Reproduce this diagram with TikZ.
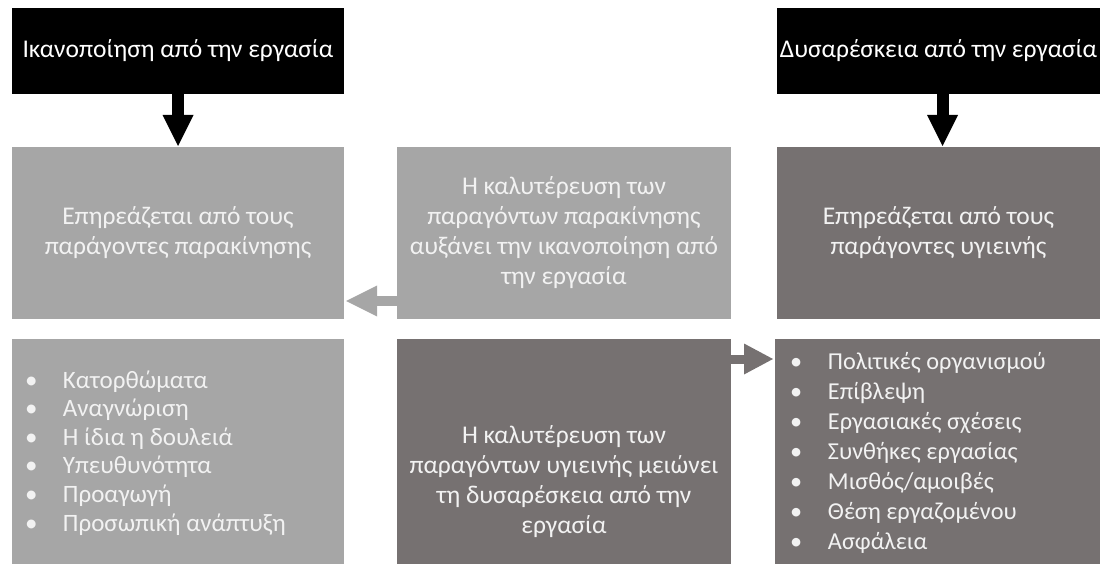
\documentclass[tikz,border=0pt]{standalone}
\usepackage{fontspec}
\setmainfont{Carlito}
\usetikzlibrary{arrows.meta,calc}
\definecolor{lightbox}{HTML}{A6A6A6}
\definecolor{darkbox}{HTML}{767171}
\definecolor{boxtext}{HTML}{F2F2F2}
\begin{document}
\begin{tikzpicture}[x=1pt,y=-1pt,
  box/.style={rectangle, inner sep=0pt, outer sep=0pt, anchor=north west,
    align=center, font=\fontsize{25.5}{30}\selectfont},
  titlebox/.style={box, fill=black, text=white, minimum height=86pt},
  lightfill/.style={box, fill=lightbox, text=boxtext},
  darkfill/.style={box, fill=darkbox, text=boxtext},
  listtext/.style={inner sep=0pt, outer sep=0pt, anchor=base west, text=boxtext},
  blackarrow/.style={draw=black, line width=12pt,
    -{Triangle[length=31pt 0, width=31pt 0, line width=0pt]}},
  lightarrow/.style={draw=lightbox, line width=10pt,
    -{Triangle[length=31pt 0, width=31pt 0, line width=0pt]}},
  darkarrow/.style={draw=darkbox, line width=9pt,
    -{Triangle[length=29pt 0, width=31pt 0, line width=0pt]}}
]
\useasboundingbox (0,0) rectangle (1101,564);
\clip (0,0) rectangle (1101,564);

% top row
\node[titlebox, minimum width=332pt] (t1) at (12,8) {Ικανοποίηση από την εργασία};
\node[titlebox, minimum width=323pt] (t2) at (777,8) {Δυσαρέσκεια από την εργασία};

% middle row
\node[lightfill, minimum width=332pt, minimum height=172pt] (m1) at (12,147)
  {Επηρεάζεται από τους\\παράγοντες παρακίνησης};
\node[lightfill, minimum width=334pt, minimum height=172pt] (m3) at (397,147)
  {Η καλυτέρευση των\\παραγόντων παρακίνησης\\αυξάνει την ικανοποίηση από\\την εργασία};
\node[darkfill, minimum width=323pt, minimum height=172pt] (m2) at (777,147)
  {Επηρεάζεται από τους\\παράγοντες υγιεινής};

% bottom row
\node[lightfill, minimum width=332pt, minimum height=260pt] (b1) at (12,339) {};
\node[darkfill, minimum width=334pt, minimum height=260pt] (b3) at (397,339) {};
\node[darkfill, minimum width=325pt, minimum height=260pt] (b2) at (775,339) {};

\node[box, anchor=center, text=boxtext] (b3t) at (564,482)
  {Η καλυτέρευση των\\παραγόντων υγιεινής μειώνει\\τη δυσαρέσκεια από την\\εργασία};

\foreach \t [count=\i] in {Κατορθώματα, Αναγνώριση, Η ίδια η δουλειά,
    Υπευθυνότητα, Προαγωγή, Προσωπική ανάπτυξη}
  \node[listtext, font=\fontsize{25}{29}\selectfont] (la\i) at (25,{388+28.6*(\i-1)})
    {\makebox[38pt][l]{•}\t};

\foreach \t [count=\i] in {Πολιτικές οργανισμού, Επίβλεψη, Εργασιακές σχέσεις,
    Συνθήκες εργασίας, Μισθός/αμοιβές, Θέση εργαζομένου, Ασφάλεια}
  \node[listtext, font=\fontsize{24.3}{29}\selectfont] (lb\i) at (790,{369+30*(\i-1)})
    {\makebox[38pt][l]{•}\t};

% connectors
\draw[blackarrow] (t1.south) -- ([yshift=1pt]m1.north);
\draw[blackarrow] ([xshift=4pt]t2.south) -- ([xshift=4pt,yshift=1pt]m2.north);
\draw[lightarrow] ([yshift=18pt]m3.south west) -- ([xshift=2pt,yshift=18pt]m1.south east);
\draw[darkarrow] ([yshift=-20pt]b3.north east) -- ([xshift=-2pt,yshift=-20pt]b2.north west);
\end{tikzpicture}
\end{document}
